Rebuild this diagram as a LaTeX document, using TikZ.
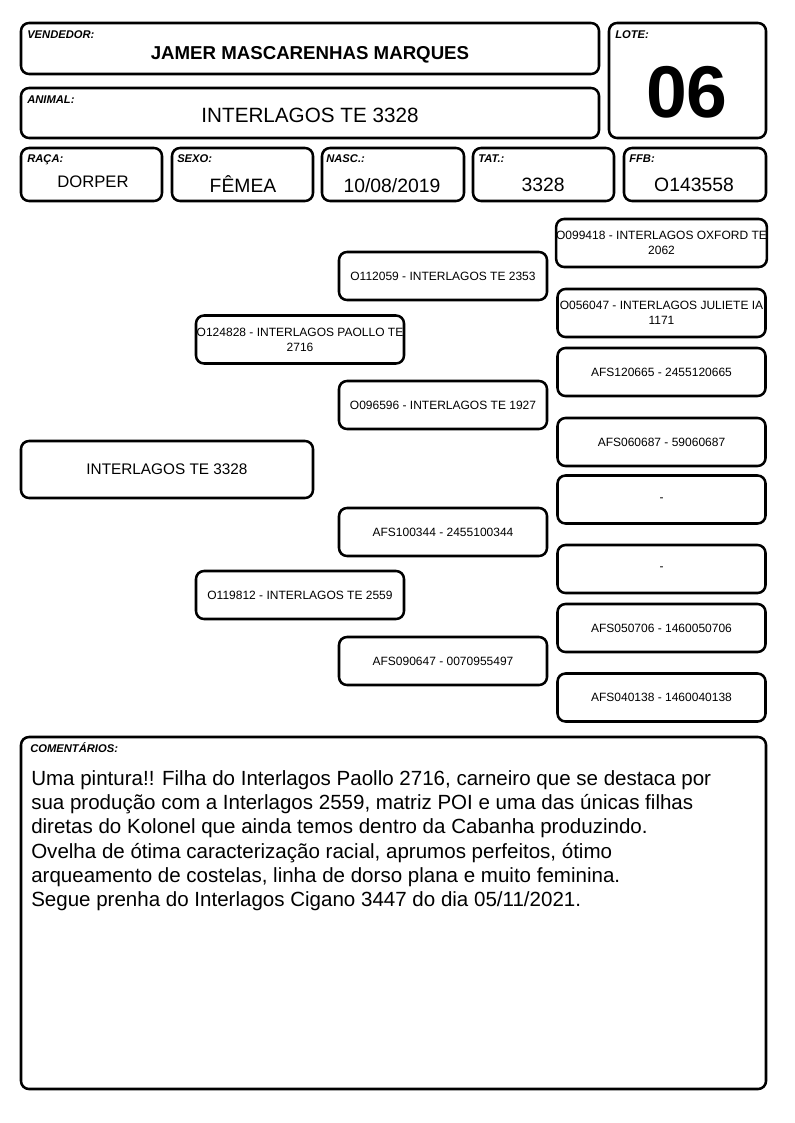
\documentclass[tikz,border=0pt]{standalone}
\usepackage{fontspec}
\setmainfont{Liberation Sans}

\tikzset{
	caixa/.style={draw=black, line width=1.9pt, rounded corners=6pt},
	rotulo/.style={anchor=base west, inner sep=0pt, font=\bfseries\itshape\fontsize{8.4}{10}\selectfont},
	valor/.style={anchor=base, inner sep=0pt, font=\fontsize{14.5}{17}\selectfont},
	ped/.style={draw=black, line width=1.9pt, rounded corners=6pt, minimum width=156pt, minimum height=36pt, align=center, inner sep=0pt, font=\fontsize{9}{11.25}\selectfont},
}

\begin{document}
\begin{tikzpicture}[x=0.75pt, y=-0.75pt]
		\useasboundingbox (0,0) rectangle (794,1123);
		
		%%%%% CABECALHO %%%%%
		
		\draw[caixa] (21,23) rectangle (599,74);
		\node[rotulo] (vendedorRot) at (27,39) {VENDEDOR:};
		\node[valor, font=\bfseries\fontsize{14}{17}\selectfont] (vendedor) at (310,60) {JAMER MASCARENHAS MARQUES};
		
		\draw[caixa] (21,88) rectangle (599,138);
		\node[rotulo] (animalRot) at (27,104) {ANIMAL:};
		\node[valor, font=\fontsize{15.5}{18}\selectfont] (animalNome) at (310,123) {INTERLAGOS TE 3328};
		
		\draw[caixa] (609,23) rectangle (766,138);
		\node[rotulo] (loteRot) at (615,39) {LOTE:};
		\node[valor, font=\bfseries\fontsize{55}{60}\selectfont] (lote) at (687,118) {06};
		
		\draw[caixa] (21,148) rectangle (162,201);
		\node[rotulo] (racaRot) at (27,163) {RAÇA:};
		\node[valor, font=\fontsize{12.5}{15}\selectfont] (raca) at (93,188) {DORPER};
		
		\draw[caixa] (172,148) rectangle (313,201);
		\node[rotulo] (sexoRot) at (177,163) {SEXO:};
		\node[valor] (sexo) at (243,193) {FÊMEA};
		
		\draw[caixa] (322,148) rectangle (464,201);
		\node[rotulo] (nascRot) at (326,163) {NASC.:};
		\node[valor] (nasc) at (392,193) {10/08/2019};
		
		\draw[caixa] (473,148) rectangle (614,201);
		\node[rotulo] (tatRot) at (478,163) {TAT.:};
		\node[valor] (tat) at (543,192) {3328};
		
		\draw[caixa] (624,148) rectangle (766,201);
		\node[rotulo] (ffbRot) at (629,163) {FFB:};
		\node[valor] (ffb) at (694,192) {O143558};
		
		%%%%% GENEALOGIA %%%%%
		
		\node[ped, minimum width=219pt, minimum height=42.75pt, font=\fontsize{11.5}{14}\selectfont] (animal) at (167,469.5) {INTERLAGOS TE 3328};
		
		\node[ped] (pai) at (300,339.5) {O124828 - INTERLAGOS PAOLLO TE\\2716};
		\node[ped] (mae) at (300,595) {O119812 - INTERLAGOS TE 2559};
		
		\node[ped] (avoPP) at (443,276) {O112059 - INTERLAGOS TE 2353};
		\node[ped] (avoPM) at (443,405) {O096596 - INTERLAGOS TE 1927};
		\node[ped] (avoMP) at (443,532) {AFS100344 - 2455100344};
		\node[ped] (avoMM) at (443,661) {AFS090647 - 0070955497};
		
		\node[ped] (bisPPP) at (661.5,243) {O099418 - INTERLAGOS OXFORD TE\\2062};
		\node[ped] (bisPPM) at (661.5,313) {O056047 - INTERLAGOS JULIETE IA\\1171};
		\node[ped] (bisPMP) at (661.5,372) {AFS120665 - 2455120665};
		\node[ped] (bisPMM) at (661.5,442) {AFS060687 - 59060687};
		\node[ped] (bisMPP) at (661.5,499.5) {-};
		\node[ped] (bisMPM) at (661.5,569) {-};
		\node[ped] (bisMMP) at (661.5,628) {AFS050706 - 1460050706};
		\node[ped] (bisMMM) at (661.5,697.5) {AFS040138 - 1460040138};
		
		%%%%% COMENTARIOS %%%%%
		
		\draw[caixa] (21,737) rectangle (766,1089);
		\node[rotulo, font=\bfseries\itshape\fontsize{8.4}{10}\selectfont] (comentRot) at (30,752) {COMENTÁRIOS:};
		\node[anchor=north west, inner sep=0pt, align=left, font=\fontsize{15.4}{18.25}\selectfont] (coment) at (31,770) {Uma pintura!! Filha do Interlagos Paollo 2716, carneiro que se destaca por\\
			sua produção com a Interlagos 2559, matriz POI e uma das únicas filhas\\
			diretas do Kolonel que ainda temos dentro da Cabanha produzindo.\\
			Ovelha de ótima caracterização racial, aprumos perfeitos, ótimo\\
			arqueamento de costelas, linha de dorso plana e muito feminina.\\
			Segue prenha do Interlagos Cigano 3447 do dia 05/11/2021.};
		
	\end{tikzpicture}
\end{document}
